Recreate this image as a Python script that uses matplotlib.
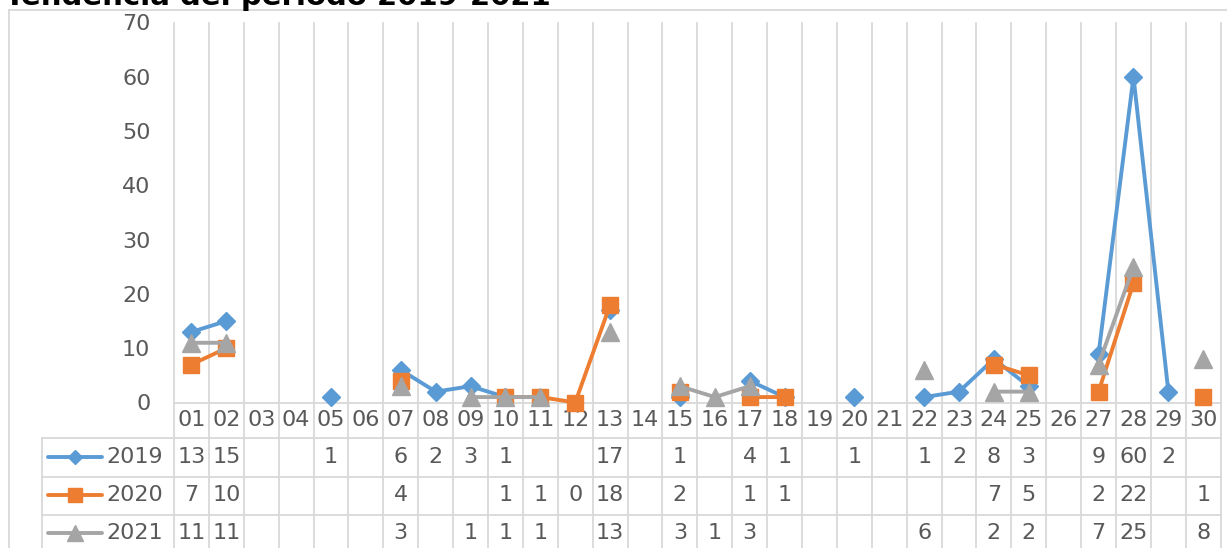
import numpy as np
import matplotlib
matplotlib.use("Agg")
import matplotlib.pyplot as plt
from matplotlib.lines import Line2D
import matplotlib.transforms as mtransforms

nan = np.nan
categories = ["01","02","03","04","05","06","07","08","09","10",
              "11","12","13","14","15","16","17","18","19","20",
              "21","22","23","24","25","26","27","28","29","30"]
s2019 = [13,15,nan,nan,1,nan,6,2,3,1,nan,nan,17,nan,1,nan,4,1,nan,1,
         nan,1,2,8,3,nan,9,60,2,nan]
s2020 = [7,10,nan,nan,nan,nan,4,nan,nan,1,1,0,18,nan,2,nan,1,1,nan,nan,
         nan,nan,nan,7,5,nan,2,22,nan,1]
s2021 = [11,11,nan,nan,nan,nan,3,nan,1,1,1,nan,13,nan,3,1,3,nan,nan,nan,
         nan,6,nan,2,2,nan,7,25,nan,8]
series_names = ["2019", "2020", "2021"]
title = "Tendencia del periodo 2019-2021"
yticks = [0, 10, 20, 30, 40, 50, 60, 70]

W, H = 1227, 548
colors = ["#5B9BD5", "#ED7D31", "#A5A5A5"]
markers = ["D", "s", "^"]
msizes = [8.8, 11.5, 12.5]
leg_msizes = [7.5, 10, 11]
grid_c = "#D9D9D9"
text_c = "#595959"
fs = 16
lw = 2.8

fig = plt.figure(figsize=(W/100, H/100), dpi=100)
def fx(px): return px / W
def fy(py): return 1 - py / H

ax_left, ax_right, ax_top, ax_bot = 174, 1220.7, 22.5, 402.5
ax = fig.add_axes([fx(ax_left), fy(ax_bot), fx(ax_right - ax_left), (ax_bot - ax_top) / H])
n = len(categories)
x = np.arange(1, n + 1)
ax.set_xlim(0.5, n + 0.5)
ax.set_ylim(0, 70)
ax.set_yticks(yticks)
ax.set_yticklabels([str(v) for v in yticks], fontsize=fs, color=text_c)
ax.tick_params(axis="y", length=0, pad=17)
ax.set_xticks([])
for s in ["top", "right", "left"]:
    ax.spines[s].set_visible(False)
ax.spines["bottom"].set_color(grid_c)
ax.spines["bottom"].set_linewidth(1.3)
ax.patch.set_alpha(0)

# chart border
fig.add_artist(Line2D([fx(9), fx(9)], [fy(9.5), fy(H + 5)], color=grid_c, lw=1.3, transform=fig.transFigure))
fig.add_artist(Line2D([fx(9), fx(W + 5)], [fy(9.5), fy(9.5)], color=grid_c, lw=1.3, transform=fig.transFigure))

blend = mtransforms.blended_transform_factory(ax.transData, fig.transFigure)

# vertical grid/table lines at category boundaries
for b in np.arange(0.5, n + 1, 1.0):
    ax.plot([b, b], [fy(ax_top), fy(H + 5)], color=grid_c, lw=1.3, transform=blend,
            clip_on=False, zorder=0)
# table left border
fig.add_artist(Line2D([fx(41.5), fx(41.5)], [fy(438), fy(H + 5)], color=grid_c, lw=1.3, transform=fig.transFigure))
# horizontal table lines
for yy in [438, 477, 515]:
    fig.add_artist(Line2D([fx(41.5), fx(ax_right)], [fy(yy), fy(yy)], color=grid_c, lw=1.3,
                          transform=fig.transFigure))

# series
data = [s2019, s2020, s2021]
for i, vals in enumerate(data):
    ax.plot(x, vals, color=colors[i], lw=lw, marker=markers[i], markersize=msizes[i],
            markerfacecolor=colors[i], markeredgecolor=colors[i], markeredgewidth=1,
            clip_on=False, zorder=3 + i)

# header row
for xi, c in zip(x, categories):
    ax.text(xi, fy(420), c, transform=blend, ha="center", va="center", fontsize=fs, color=text_c)

# data rows
row_y = [457, 495, 533]
for i, vals in enumerate(data):
    yy = fy(row_y[i])
    fig.add_artist(Line2D([fx(48), fx(102)], [yy, yy], color=colors[i], lw=lw,
                          transform=fig.transFigure, solid_capstyle="round"))
    fig.add_artist(Line2D([fx(75)], [yy], color=colors[i], marker=markers[i],
                          markersize=leg_msizes[i], markeredgewidth=1, markeredgecolor=colors[i],
                          transform=fig.transFigure))
    fig.text(fx(106), yy, series_names[i], ha="left", va="center", fontsize=fs, color=text_c)
    for xi, v in zip(x, vals):
        if not np.isnan(v):
            ax.text(xi, yy, f"{int(v)}", transform=blend, ha="center", va="center",
                    fontsize=fs, color=text_c)

fig.text(fx(5), fy(5), title, ha="left", va="baseline", fontsize=21, fontweight="bold", color="black")

fig.savefig("out.png", dpi=100)
